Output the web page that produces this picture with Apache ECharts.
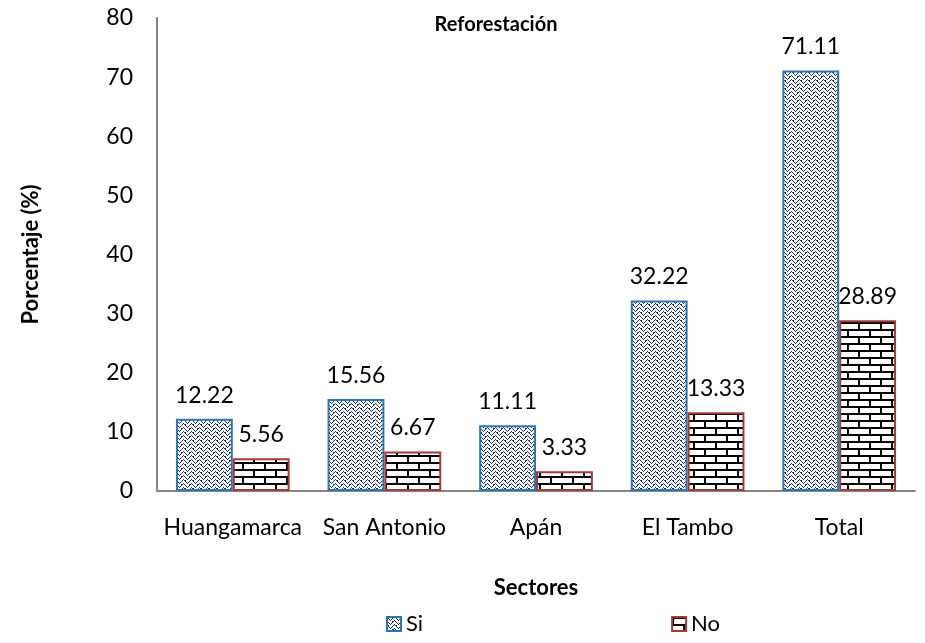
<!DOCTYPE html>
<html>
<head>
<meta charset="utf-8">
<script src="https://cdn.jsdelivr.net/npm/echarts@6/dist/echarts.min.js"></script>
<style>
  html, body { margin: 0; padding: 0; background: #fff; }
  #chart { width: 925px; height: 643px; }
</style>
</head>
<body>
<div id="chart"></div>
<script>
var sectores = ['Huangamarca', 'San Antonio', 'Apán', 'El Tambo', 'Total'];
var si = [12.22, 15.56, 11.11, 32.22, 71.11];
var no = [5.56, 6.67, 3.33, 13.33, 28.89];
var nombres = ['Si', 'No'];

// patron tejido azul (zigzag)
function tejido() {
  var c = document.createElement('canvas');
  c.width = 8; c.height = 8;
  var g = c.getContext('2d');
  g.fillStyle = '#ffffff';
  g.fillRect(0, 0, 8, 8);
  g.fillStyle = '#1a2f7a';
  var pts = [[0,0],[1,1],[2,2],[3,3],[4,2],[5,1],[6,0],[7,7],
             [0,4],[1,5],[2,6],[3,7],[4,6],[5,5],[6,4],[7,3],
             [1,0],[5,4]];
  for (var i = 0; i < pts.length; i++) g.fillRect(pts[i][0], pts[i][1], 1, 1);
  return c;
}
// patron ladrillo
function ladrillo() {
  var c = document.createElement('canvas');
  c.width = 22; c.height = 14;
  var g = c.getContext('2d');
  g.fillStyle = '#ffffff';
  g.fillRect(0, 0, 22, 14);
  g.fillStyle = '#000000';
  g.fillRect(0, 0, 22, 2);
  g.fillRect(0, 7, 22, 2);
  g.fillRect(0, 0, 2, 7);
  g.fillRect(11, 7, 2, 7);
  return c;
}

var myChart = echarts.init(document.getElementById('chart'));
var fuente = 'Lato, "Open Sans", sans-serif';
myChart.setOption({
  animation: false,
  title: {
    text: 'Reforestación',
    left: 491,
    top: 10,
    textAlign: 'center',
    textStyle: { fontFamily: fuente, fontSize: 20, fontWeight: 'bold', color: '#000' }
  },
  legend: {
    data: nombres,
    bottom: 3,
    left: 381,
    itemGap: 248,
    itemWidth: 14,
    itemHeight: 14,
    icon: 'rect',
    textStyle: { fontFamily: fuente, fontSize: 22, color: '#000' }
  },
  grid: { left: 157, right: 10, top: 18, bottom: 152 },
  xAxis: {
    type: 'category',
    data: sectores,
    name: 'Sectores',
    nameLocation: 'middle',
    nameGap: 86,
    nameTextStyle: { fontFamily: fuente, fontSize: 22, fontWeight: 'bold', color: '#000' },
    axisLine: { lineStyle: { color: '#868686', width: 2 } },
    axisTick: { show: false },
    axisLabel: { interval: 0, fontFamily: fuente, fontSize: 23, color: '#000', margin: 25 }
  },
  yAxis: {
    type: 'value',
    min: 0, max: 80, interval: 10,
    name: 'Porcentaje (%)',
    nameLocation: 'middle',
    nameGap: 115,
    nameTextStyle: { fontFamily: fuente, fontSize: 22, fontWeight: 'bold', color: '#000' },
    axisLine: { show: true, lineStyle: { color: '#868686', width: 2 } },
    axisTick: { show: false },
    splitLine: { show: false },
    axisLabel: { fontFamily: fuente, fontSize: 23, color: '#000', margin: 24 }
  },
  series: [
    {
      name: 'Si',
      type: 'bar',
      data: si,
      barGap: '0%',
      barCategoryGap: '25%',
      itemStyle: {
        color: { image: tejido(), repeat: 'repeat' },
        borderColor: '#2e75b6',
        borderWidth: 2
      },
      label: {
        show: true, position: 'top', distance: 12,
        fontFamily: fuente, fontSize: 23, color: '#000',
        formatter: function (p) { return p.value.toFixed(2); }
      }
    },
    {
      name: 'No',
      type: 'bar',
      data: no,
      itemStyle: {
        color: { image: ladrillo(), repeat: 'repeat' },
        borderColor: '#a33b38',
        borderWidth: 2
      },
      label: {
        show: true, position: 'top', distance: 12,
        fontFamily: fuente, fontSize: 23, color: '#000',
        formatter: function (p) { return p.value.toFixed(2); }
      }
    }
  ]
});
</script>
</body>
</html>
